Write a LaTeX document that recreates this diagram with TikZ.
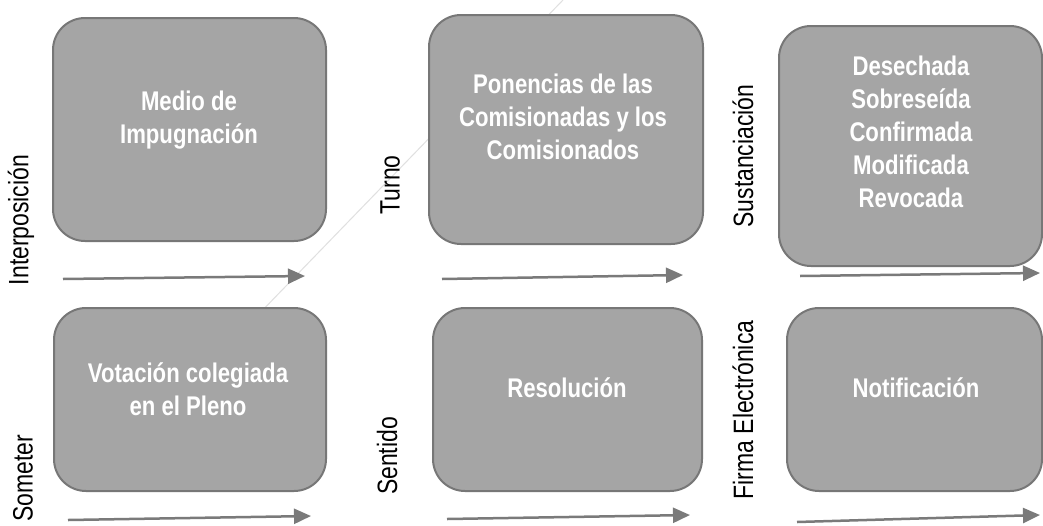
\documentclass[tikz,border=0pt]{standalone}
\usepackage{fontspec}
\setmainfont{Liberation Sans}
\newfontfamily\boxfont[FakeStretch=0.82]{Liberation Sans}
\newfontfamily\sidefont[FakeStretch=0.82]{Liberation Sans}
\usetikzlibrary{arrows.meta}
\definecolor{boxfill}{HTML}{A5A5A5}
\definecolor{boxline}{HTML}{777777}
\definecolor{arrowcol}{HTML}{7A7A7A}
\definecolor{diagcol}{HTML}{E0E0E0}
\tikzset{
  stagebox/.style={draw=boxline, fill=boxfill, line width=2pt, rounded corners=32pt, anchor=north west, inner sep=0pt},
  boxtext/.style={anchor=base, inner sep=0pt, text=white, font=\boxfont\bfseries\fontsize{27}{33}\selectfont},
  sidelabel/.style={rotate=90, inner sep=0pt, font=\sidefont\fontsize{28}{30}\selectfont},
  flow/.style={draw=arrowcol, line width=2.5pt, -{Triangle[length=17pt,width=15pt]}}
}
\begin{document}
\begin{tikzpicture}[x=1pt,y=-1pt]
\useasboundingbox[fill=white] (0,0) rectangle (1043,525);
% faint diagonal background line
\coordinate (dA) at (255,318);
\coordinate (dB) at (563,0);
\draw[diagcol, line width=1pt] (dA) -- (dB);
% boxes
\node[stagebox, minimum width=273pt, minimum height=223pt] (b1) at (52,17) {};
\node[stagebox, minimum width=274pt, minimum height=229pt] (b2) at (428,14) {};
\node[stagebox, minimum width=263pt, minimum height=240pt] (b3) at (778,25) {};
\node[stagebox, minimum width=272pt, minimum height=183pt] (b4) at (53,307) {};
\node[stagebox, minimum width=269pt, minimum height=183pt] (b5) at (432,307) {};
\node[stagebox, minimum width=255pt, minimum height=183pt] (b6) at (786,307) {};
% box texts
\node[boxtext] (t1) at (189,110) {\begin{tabular}[t]{@{}c@{}}Medio de\\Impugnación\end{tabular}};
\node[boxtext] (t2) at (563,93) {\begin{tabular}[t]{@{}c@{}}Ponencias de las\\Comisionadas y los\\Comisionados\end{tabular}};
\node[boxtext] (t3) at (911,75) {\begin{tabular}[t]{@{}c@{}}Desechada\\Sobreseída\\Confirmada\\Modificada\\Revocada\end{tabular}};
\node[boxtext] (t4) at (188,382) {\begin{tabular}[t]{@{}c@{}}Votación colegiada\\en el Pleno\end{tabular}};
\node[boxtext] (t5) at (567,397) {Resolución};
\node[boxtext] (t6) at (916,397) {Notificación};
% side labels
\node[sidelabel] (l1) at (21,220) {Interposición};
\node[sidelabel] (l2) at (390,185) {Turno};
\node[sidelabel] (l3) at (743,156) {Sustanciación};
\node[sidelabel] (l4) at (23,478) {Someter};
\node[sidelabel] (l5) at (387,456) {Sentido};
\node[sidelabel] (l6) at (743,410) {Firma Electrónica};
% arrows
\coordinate (a1s) at (63,279);  \coordinate (a1e) at (305,276);
\coordinate (a2s) at (442,279); \coordinate (a2e) at (683,275);
\coordinate (a3s) at (800,276); \coordinate (a3e) at (1040,273);
\coordinate (a4s) at (68,520);  \coordinate (a4e) at (311,516);
\coordinate (a5s) at (447,519); \coordinate (a5e) at (690,515);
\coordinate (a6s) at (797,522); \coordinate (a6e) at (1040,515);
\draw[flow] (a1s) -- (a1e);
\draw[flow] (a2s) -- (a2e);
\draw[flow] (a3s) -- (a3e);
\draw[flow] (a4s) -- (a4e);
\draw[flow] (a5s) -- (a5e);
\draw[flow] (a6s) -- (a6e);
\end{tikzpicture}
\end{document}
